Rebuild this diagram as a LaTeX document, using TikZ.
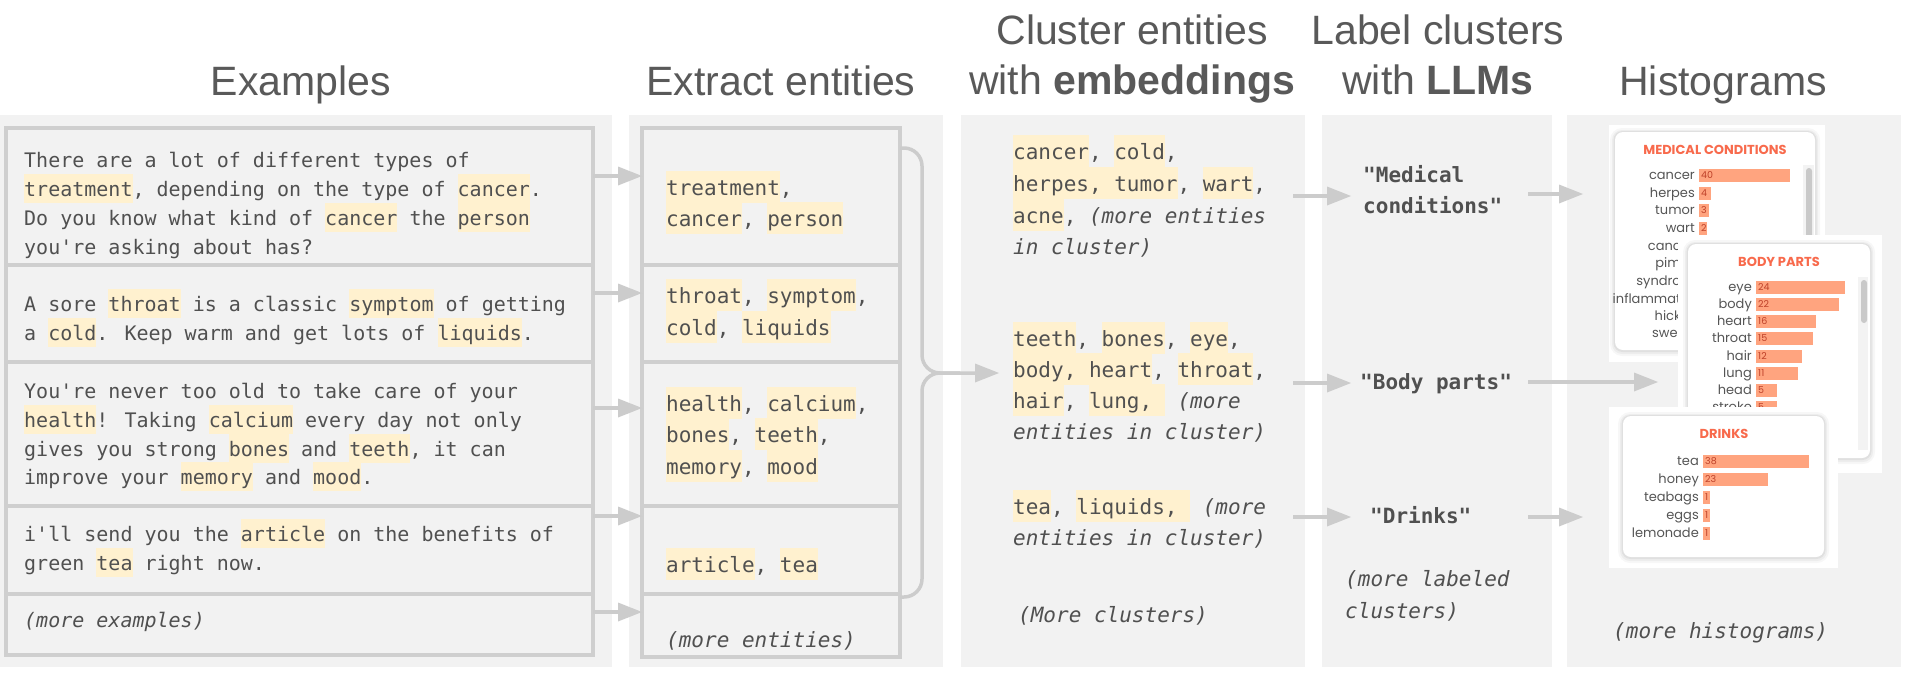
\documentclass[tikz,border=0pt]{standalone}
\usepackage{fontspec}
\setmainfont{Liberation Sans}
\newfontfamily\mono{DejaVu Sans Mono}
\newfontfamily\cardfont{Poppins}
\usetikzlibrary{arrows.meta}
\definecolor{panelbg}{HTML}{F2F2F2}
\definecolor{boxline}{HTML}{CFCFCF}
\definecolor{arrowc}{HTML}{CCCCCC}
\definecolor{txt}{HTML}{505050}
\definecolor{hlc}{HTML}{FFF1CF}
\definecolor{titlec}{HTML}{595959}
\definecolor{histred}{HTML}{F86A4C}
\definecolor{barc}{HTML}{FFA47F}
\definecolor{barnum}{HTML}{BE4129}
\definecolor{cardlbl}{HTML}{555555}
\definecolor{scrolltrack}{HTML}{F3F3F3}
\definecolor{scrollthumb}{HTML}{C9C9C9}
\newcommand\hl[1]{{\fboxsep=0pt\colorbox{hlc}{\rule[-0.36em]{0pt}{1.48em}#1}}}
\newcommand\histrow[6]{%
  \node[hlabel] (#1) at (#2,#3+4.2) {#6};
  \fill[barc] (#2+3.5,#3-6.5) rectangle ++(#4,13);
  \node[hnum] (#1n) at (#2+6,#3+3.4) {#5};}
\newcommand\cardshadow[4]{%
  \fill[black,opacity=0.03,rounded corners=12pt] (#1-5,#2-4) rectangle (#3+5,#4+6);
  \fill[black,opacity=0.04,rounded corners=10pt] (#1-3,#2-2) rectangle (#3+3,#4+4);
  \fill[black,opacity=0.05,rounded corners=9pt] (#1-1.5,#2-1) rectangle (#3+1.5,#4+2);
  \fill[white,rounded corners=8pt] (#1,#2) rectangle (#3,#4);}
\begin{document}
\begin{tikzpicture}[x=1pt,y=-1pt,
  title/.style={font=\fontsize{41}{50}\selectfont, text=titlec, inner sep=0pt, anchor=base},
  exs/.style={font=\mono\fontsize{20}{29}\selectfont, text=txt, inner sep=0pt, anchor=base west},
  ens/.style={font=\mono\fontsize{21}{31}\selectfont, text=txt, inner sep=0pt, anchor=base west},
  frame/.style={draw=boxline, line width=3.5pt, inner sep=0pt, outer sep=0pt, anchor=north west},
  conn/.style={draw=arrowc, line width=3.5pt, -{Triangle[length=24pt,width=19pt,line width=0pt]}},
  plain/.style={draw=arrowc, line width=3.5pt},
  htitle/.style={font=\cardfont\bfseries\fontsize{13}{15}\selectfont, text=histred, inner sep=0pt, anchor=base},
  hlabel/.style={font=\cardfont\fontsize{13}{15}\selectfont, text=cardlbl, inner sep=0pt, anchor=base east},
  hfrag/.style={font=\cardfont\fontsize{13}{15}\selectfont, text=cardlbl, inner sep=0pt, anchor=base east},
  hnum/.style={font=\cardfont\fontsize{9.5}{11}\selectfont, text=barnum, inner sep=0pt, anchor=base west}]
\useasboundingbox (0,0) rectangle (1909,678);
\fill[white] (0,0) rectangle (1909,678);
% panels
\fill[panelbg] (0,115) rectangle (612,667);
\fill[panelbg] (629,115) rectangle (943,667);
\fill[panelbg] (961,115) rectangle (1305,667);
\fill[panelbg] (1322,115) rectangle (1552,667);
\fill[panelbg] (1567,115) rectangle (1901,667);
% titles
\node[title] (tex) at (301,95) {Examples};
\node[title] (tent) at (781,95) {Extract entities};
\node[title] (tcl1) at (1132,44) {Cluster entities};
\node[title] (tcl2) at (1132,94) {with \textbf{embeddings}};
\node[title] (tlb1) at (1438,44) {Label clusters};
\node[title] (tlb2) at (1438,94) {with \textbf{LLMs}};
\node[title] (thi) at (1723,95) {Histograms};
% example boxes
\node[frame, minimum width=587pt, minimum height=137pt] (ex1) at (6,128) {};
\node[frame, minimum width=587pt, minimum height=97pt] (ex2) at (6,265) {};
\node[frame, minimum width=587pt, minimum height=144pt] (ex3) at (6,362) {};
\node[frame, minimum width=587pt, minimum height=88pt] (ex4) at (6,506) {};
\node[frame, minimum width=587pt, minimum height=61pt] (ex5) at (6,594) {};
% entity boxes
\node[frame, minimum width=258pt, minimum height=137pt] (ent1) at (642,128) {};
\node[frame, minimum width=258pt, minimum height=97pt] (ent2) at (642,265) {};
\node[frame, minimum width=258pt, minimum height=144pt] (ent3) at (642,362) {};
\node[frame, minimum width=258pt, minimum height=88pt] (ent4) at (642,506) {};
\node[frame, minimum width=258pt, minimum height=63pt] (ent5) at (642,594) {};
% example texts
\node[exs] (e11) at (24,167) {There are a lot of different types of};
\node[exs] (e12) at (24,196) {\hl{treatment}, depending on the type of \hl{cancer}.};
\node[exs] (e13) at (24,225) {Do you know what kind of \hl{cancer} the \hl{person}};
\node[exs] (e14) at (24,254) {you're asking about has?};
\node[exs] (e21) at (24,311) {A sore \hl{throat} is a classic \hl{symptom} of getting};
\node[exs] (e22) at (24,340) {a \hl{cold}. Keep warm and get lots of \hl{liquids}.};
\node[exs] (e31) at (24,398) {You're never too old to take care of your};
\node[exs] (e32) at (24,427) {\hl{health}! Taking \hl{calcium} every day not only};
\node[exs] (e33) at (24,456) {gives you strong \hl{bones} and \hl{teeth}, it can};
\node[exs] (e34) at (24,484) {improve your \hl{memory} and \hl{mood}.};
\node[exs] (e41) at (24,541) {i'll send you the \hl{article} on the benefits of};
\node[exs] (e42) at (24,570) {green \hl{tea} right now.};
\node[exs] (e51) at (24,627) {\itshape(more examples)};
% entity texts
\node[ens] (n11) at (666,195) {\hl{treatment},};
\node[ens] (n12) at (666,226) {\hl{cancer}, \hl{person}};
\node[ens] (n21) at (666,303) {\hl{throat}, \hl{symptom},};
\node[ens] (n22) at (666,335) {\hl{cold}, \hl{liquids}};
\node[ens] (n31) at (666,411) {\hl{health}, \hl{calcium},};
\node[ens] (n32) at (666,442) {\hl{bones}, \hl{teeth},};
\node[ens] (n33) at (666,474) {\hl{memory}, \hl{mood}};
\node[ens] (n41) at (666,572) {\hl{article}, \hl{tea}};
\node[ens] (n51) at (666,647) {\itshape(more entities)};
% arrows examples -> entities
\draw[conn] (ex1.east |- 0,176) -- (ent1.west |- 0,176);
\draw[conn] (ex2.east |- 0,293) -- (ent2.west |- 0,293);
\draw[conn] (ex3.east |- 0,408) -- (ent3.west |- 0,408);
\draw[conn] (ex4.east |- 0,516) -- (ent4.west |- 0,516);
\draw[conn] (ex5.east |- 0,612) -- (ent5.west |- 0,612);
% bracket
\coordinate (c2in) at (999,373);
\coordinate (bmid) at (960,373);
\draw[conn, rounded corners=18pt] (ent1.east |- 0,148) -- (922,148) -- (922,373) -- (c2in);
\draw[plain, rounded corners=18pt] (ent5.east |- 0,597) -- (922,597) -- (922,373) -- (bmid);
% cluster texts
\node[ens] (c11) at (1013,159) {\hl{cancer}, \hl{cold},};
\node[ens] (c12) at (1013,191) {\hl{herpes, tumor}, \hl{wart},};
\node[ens] (c13) at (1013,223) {\hl{acne}, \textit{(more entities}};
\node[ens] (c14) at (1013,254) {\textit{in cluster)}};
\node[ens] (c21) at (1013,346) {\hl{teeth}, \hl{bones}, \hl{eye},};
\node[ens] (c22) at (1013,377) {\hl{body, heart}, \hl{throat},};
\node[ens] (c23) at (1013,408) {\hl{hair}, \hl{lung, } \textit{(more}};
\node[ens] (c24) at (1013,439) {\textit{entities in cluster)}};
\node[ens] (c31) at (1013,514) {\hl{tea}, \hl{liquids, } \textit{(more}};
\node[ens] (c32) at (1013,545) {\textit{entities in cluster)}};
\node[ens] (c41) at (1018,622) {\textit{(More clusters)}};
% label texts
\node[ens] (l11) at (1363,182) {\bfseries "Medical};
\node[ens] (l12) at (1363,213) {\bfseries conditions"};
\node[ens] (l21) at (1360,389) {\bfseries "Body parts"};
\node[ens] (l31) at (1370,523) {\bfseries "Drinks"};
\node[ens] (l41) at (1345,586) {\itshape(more labeled};
\node[ens] (l42) at (1345,618) {\itshape clusters)};
% arrows cluster -> label -> histogram
\coordinate (a1s) at (1293,196); \coordinate (a1e) at (1351,196);
\coordinate (a2s) at (1293,383); \coordinate (a2e) at (1351,383);
\coordinate (a3s) at (1293,517); \coordinate (a3e) at (1351,517);
\coordinate (b1s) at (1528,194); \coordinate (b1e) at (1583,194);
\coordinate (b2s) at (1528,382); \coordinate (b2e) at (1658,382);
\coordinate (b3s) at (1528,517); \coordinate (b3e) at (1583,517);
\draw[conn] (a1s) -- (a1e);
\draw[conn] (a2s) -- (a2e);
\draw[conn] (a3s) -- (a3e);
\draw[conn] (b1s) -- (b1e);
\draw[conn] (b3s) -- (b3e);
% card 1
\fill[white] (1609,125) rectangle (1825,362);
\cardshadow{1615}{132}{1815}{350}
\node[htitle] (h1t) at (1715,154.5) {MEDICAL CONDITIONS};
\histrow{m1}{1695}{175}{91}{40}{cancer}
\histrow{m2}{1695}{193}{12}{4}{herpes}
\histrow{m3}{1695}{210}{10}{3}{tumor}
\histrow{m4}{1695}{228}{8}{2}{wart}
\node[hfrag] (m5) at (1681,250.2) {canc};
\node[hfrag] (m6) at (1681,267.2) {pim};
\node[hfrag] (m7) at (1681,285.2) {syndro};
\node[hfrag] (m8) at (1681,303.2) {inflammat};
\node[hfrag] (m9) at (1681,320.2) {hick};
\node[hfrag] (m10) at (1681,337.2) {swel};
\fill[scrolltrack] (1803,165) rectangle (1814,345);
\fill[scrollthumb, rounded corners=3pt] (1806,168) rectangle (1812,240);
% card 2
\fill[white] (1678,235) rectangle (1882,473);
\cardshadow{1688}{244}{1870}{458}
\node[htitle] (h2t) at (1779,266.5) {BODY PARTS};
\histrow{b1}{1752}{287}{89}{24}{eye}
\histrow{b2}{1752}{304}{83}{22}{body}
\histrow{b3}{1752}{321}{60}{16}{heart}
\histrow{b4}{1752}{338}{57}{15}{throat}
\histrow{b5}{1752}{356}{46}{12}{hair}
\histrow{b6}{1752}{373}{42}{11}{lung}
\histrow{b7}{1752}{390}{21}{5}{head}
\histrow{b8}{1752}{407}{21}{5}{stroke}
\fill[scrolltrack] (1858,277) rectangle (1868,450);
\fill[scrollthumb, rounded corners=3pt] (1861,280) rectangle (1867,323);
\draw[conn] (b2s) -- (b2e);
% card 3
\fill[white] (1609,407) rectangle (1838,568);
\cardshadow{1623}{416}{1824}{557}
\node[htitle] (h3t) at (1724,438.5) {DRINKS};
\histrow{d1}{1699}{461}{106}{38}{tea}
\histrow{d2}{1699}{479}{65}{23}{honey}
\histrow{d3}{1699}{497}{7}{1}{teabags}
\histrow{d4}{1699}{515}{7}{1}{eggs}
\histrow{d5}{1699}{533}{7}{1}{lemonade}
\node[ens] (hm) at (1613,638) {\itshape(more histograms)};
\end{tikzpicture}
\end{document}
